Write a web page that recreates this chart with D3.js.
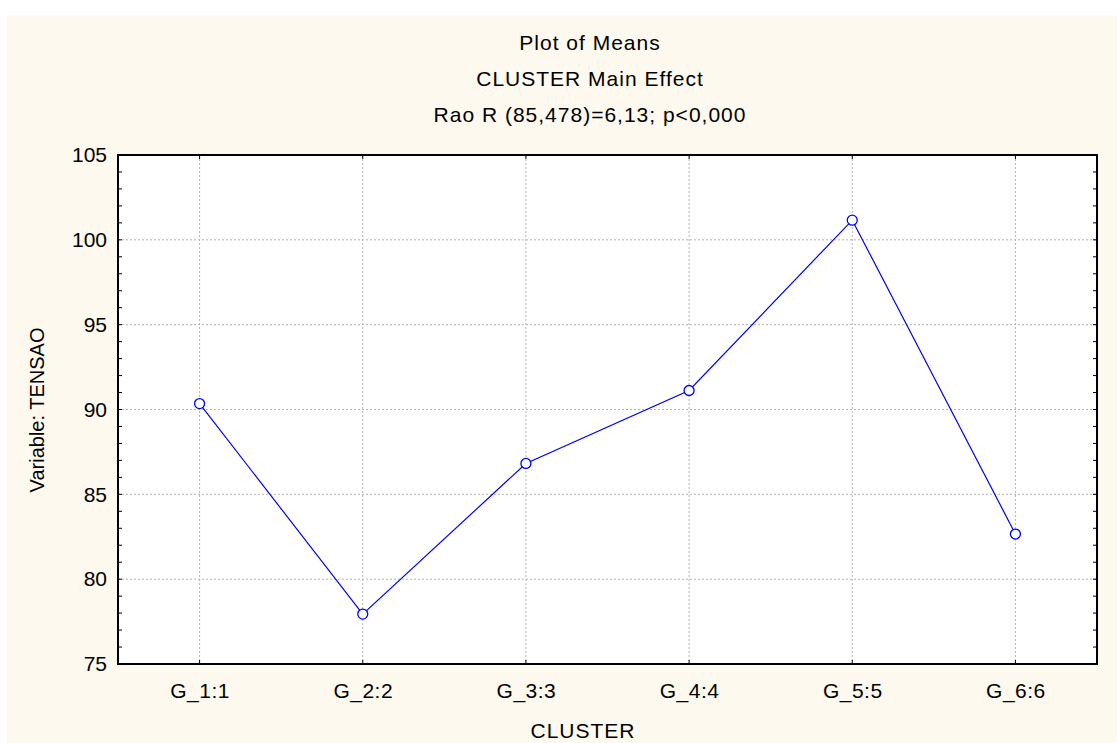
<!DOCTYPE html>
<meta charset="utf-8">
<html>
<head>
<style>
    body { margin: 0; background: #ffffff; }
    text { font-family: "Liberation Sans", Arial, Helvetica, sans-serif; fill: #000; }
</style>
</head>
<body>
<div id="chart"></div>
<script src="https://d3js.org/d3.v7.min.js"></script>
<script>
    // chart data
    let categories = ['G_1:1', 'G_2:2', 'G_3:3', 'G_4:4', 'G_5:5', 'G_6:6'];
    let means = [90.35, 77.94, 86.82, 91.12, 101.16, 82.66];
    let yTicks = [75, 80, 85, 90, 95, 100, 105];
    let titleLines = ['Plot of Means', 'CLUSTER Main Effect', 'Rao R (85,478)=6,13; p<0,000'];

    // chart setting
    let svgWidth = 1117;
    let svgHeight = 743;
    let margin = {top: 155, right: 20, bottom: 79, left: 118};
    let width = svgWidth - margin.left - margin.right;
    let height = svgHeight - margin.top - margin.bottom;

    let svg = d3.select('#chart')
        .append('svg')
        .attr('width', svgWidth)
        .attr('height', svgHeight);

    // cream backdrop
    svg.append('rect')
        .attr('x', 7).attr('y', 15)
        .attr('width', svgWidth - 7).attr('height', svgHeight - 15)
        .attr('fill', '#fdf9ee');

    let g = svg.append('g')
        .attr('transform', `translate(${margin.left}, ${margin.top})`);

    // scales
    let x = d3.scalePoint()
        .domain(categories)
        .range([0, width])
        .padding(0.5);
    let y = d3.scaleLinear()
        .domain([75, 105])
        .range([height, 0]);

    g.append('rect')
        .attr('width', width).attr('height', height)
        .attr('fill', '#ffffff');

    // grid
    g.append('g').selectAll('line')
        .data(yTicks.slice(1, -1))
        .enter().append('line')
        .attr('x1', 0).attr('x2', width)
        .attr('y1', d => y(d)).attr('y2', d => y(d))
        .attr('stroke', '#b4b4b4').attr('stroke-dasharray', '2,2');
    g.append('g').selectAll('line')
        .data(categories)
        .enter().append('line')
        .attr('x1', d => x(d)).attr('x2', d => x(d))
        .attr('y1', 0).attr('y2', height)
        .attr('stroke', '#b4b4b4').attr('stroke-dasharray', '2,2');

    // axes (ticks inward)
    let minorTicks = d3.range(75, 106, 1);
    let yLeft = g.append('g')
        .call(d3.axisLeft(y).tickValues(yTicks).tickSize(0).tickPadding(11));
    yLeft.select('.domain').remove();
    yLeft.selectAll('text').attr('font-size', '21px').attr('font-family', '"Liberation Sans", Arial, sans-serif');

    g.append('g').selectAll('line')
        .data(minorTicks)
        .enter().append('line')
        .attr('x1', 0).attr('x2', 4)
        .attr('y1', d => y(d)).attr('y2', d => y(d))
        .attr('stroke', '#000');
    g.append('g').selectAll('line')
        .data(minorTicks)
        .enter().append('line')
        .attr('x1', width).attr('x2', width - 4)
        .attr('y1', d => y(d)).attr('y2', d => y(d))
        .attr('stroke', '#000');

    let xBottom = g.append('g')
        .attr('transform', `translate(0, ${height})`)
        .call(d3.axisBottom(x).tickSize(0).tickPadding(19));
    xBottom.select('.domain').remove();
    xBottom.selectAll('text').attr('font-size', '21px').attr('letter-spacing', '0.5px')
        .attr('font-family', '"Liberation Sans", Arial, sans-serif');

    g.append('g').selectAll('line')
        .data(categories)
        .enter().append('line')
        .attr('x1', d => x(d)).attr('x2', d => x(d))
        .attr('y1', height).attr('y2', height - 4)
        .attr('stroke', '#000');
    g.append('g').selectAll('line')
        .data(categories)
        .enter().append('line')
        .attr('x1', d => x(d)).attr('x2', d => x(d))
        .attr('y1', 0).attr('y2', 4)
        .attr('stroke', '#000');

    // frame
    g.append('rect')
        .attr('width', width).attr('height', height)
        .attr('fill', 'none').attr('stroke', '#000').attr('stroke-width', 2);

    // series
    let line = d3.line()
        .x((d, i) => x(categories[i]))
        .y(d => y(d));
    g.append('path')
        .datum(means)
        .attr('d', line)
        .attr('fill', 'none')
        .attr('stroke', '#0000ff')
        .attr('stroke-width', 1.2);
    g.selectAll('circle')
        .data(means)
        .enter().append('circle')
        .attr('cx', (d, i) => x(categories[i]))
        .attr('cy', d => y(d))
        .attr('r', 5)
        .attr('fill', '#ffffff')
        .attr('stroke', '#0000ff')
        .attr('stroke-width', 1.3);

    // titles
    svg.append('g').selectAll('text')
        .data(titleLines)
        .enter().append('text')
        .attr('x', 590)
        .attr('y', (d, i) => 50 + i * 36)
        .attr('text-anchor', 'middle')
        .attr('font-size', '21px')
        .attr('letter-spacing', '1px')
        .text(d => d);

    svg.append('text')
        .attr('x', 583).attr('y', 738)
        .attr('text-anchor', 'middle')
        .attr('font-size', '21px')
        .attr('letter-spacing', '1px')
        .text('CLUSTER');

    svg.append('text')
        .attr('transform', 'translate(44, 410) rotate(-90)')
        .attr('text-anchor', 'middle')
        .attr('font-size', '20px')
        .text('Variable: TENSAO');
</script>
</body>
</html>
